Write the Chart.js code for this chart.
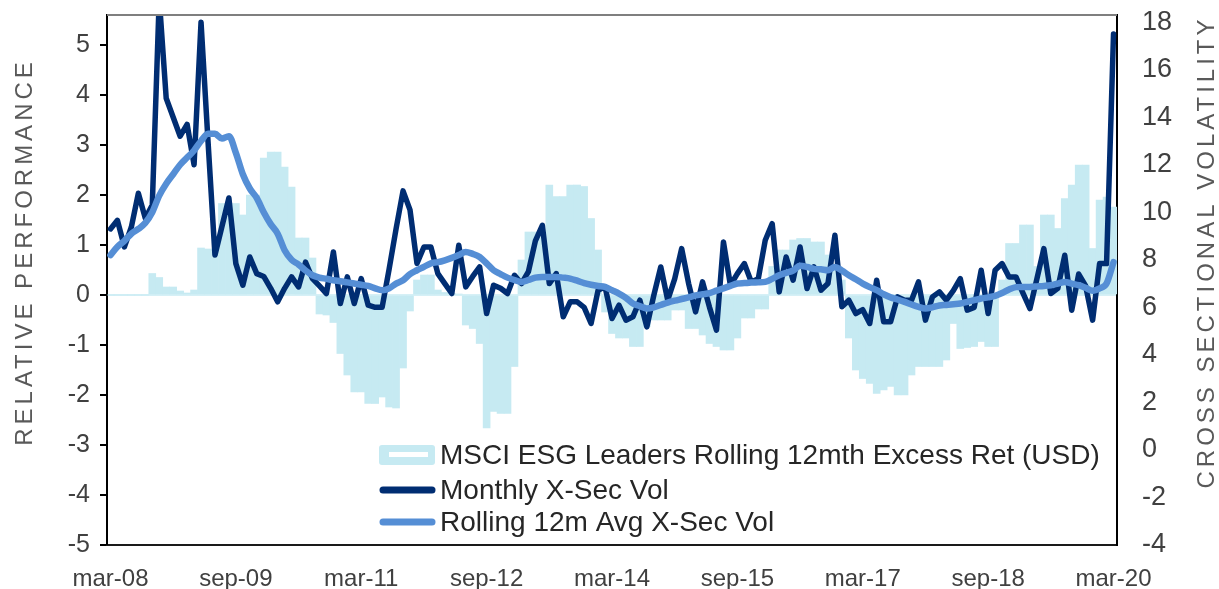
<!DOCTYPE html>
<html>
<head>
<meta charset="utf-8">
<script src="https://cdn.jsdelivr.net/npm/chart.js@4.4.1/dist/chart.umd.min.js"></script>
<style>
  html, body { margin: 0; padding: 0; background: #fff; }
  #wrap { width: 1219px; height: 589px; position: relative; }
</style>
</head>
<body>
<div id="wrap"><canvas id="myChart" width="1219" height="589"></canvas></div>
<script>
// month categories mar-08 .. mar-20
const monthNames = ['jan','feb','mar','apr','may','jun','jul','aug','sep','oct','nov','dec'];
const labels = [];
for (let y = 2008; y <= 2020; y++) {
  for (let m = 0; m < 12; m++) {
    if ((y === 2008 && m < 2) || (y === 2020 && m > 2)) continue;
    labels.push(monthNames[m] + '-' + String(y).slice(2));
  }
}
const tickLabels = ['mar-08','sep-09','mar-11','sep-12','mar-14','sep-15','mar-17','sep-18','mar-20'];
const leftTicks = [-5, -4, -3, -2, -1, 0, 1, 2, 3, 4, 5];
const rightTicks = [-4, -2, 0, 2, 4, 6, 8, 10, 12, 14, 16, 18];

// MSCI ESG Leaders rolling 12m excess return (left axis)
const excessRet = [
  0, 0, 0, 0, 0, 0, 0.43, 0.35, 0.16, 0.16,
  0.08, 0.04, 0.1, 0.94, 0.92, 0.9, 1.83, 1.83, 1.83, 1.6,
  2.0, 2.0, 2.74, 2.86, 2.86, 2.56, 2.16, 1.14, 1.14, 0.74,
  -0.38, -0.4, -0.55, -1.17, -1.6, -1.94, -1.94, -2.17, -2.17, -2.04,
  -2.24, -2.26, -1.46, -0.32, 0.3, 0.4, 0.4, 0.1, 0.05, 0.03,
  0.02, -0.6, -0.67, -0.97, -2.66, -2.33, -2.37, -2.37, -1.43, 0.7,
  1.26, 1.26, 1.26, 2.2, 1.97, 1.97, 2.2, 2.2, 2.17, 1.53,
  0.9, -0.34, -0.77, -0.86, -0.86, -1.03, -1.03, -0.63, -0.5, -0.5,
  -0.5, -0.3, -0.3, -0.67, -0.67, -0.8, -0.97, -1.03, -1.1, -1.1,
  -0.86, -0.46, -0.46, -0.28, -0.28, 0.57, 0.9, 0.9, 1.1, 1.13,
  1.13, 1.06, 1.06, 0.8, 0.5, 0.3, -0.86, -1.5, -1.67, -1.77,
  -1.97, -1.9, -1.83, -2.0, -2.0, -1.6, -1.43, -1.43, -1.43, -1.43,
  -1.3, -0.57, -1.07, -1.05, -1.03, -0.93, -1.03, -1.03, 0.3, 1.03,
  1.03, 1.4, 1.4, 0.57, 1.6, 1.6, 1.33, 1.93, 2.2, 2.6,
  2.6, 0.93, 1.9, 1.96, 1.76
];

// monthly cross-sectional volatility (right axis)
const monthlyVol = [
  9.3, 9.66, 8.54, 9.38, 10.8, 9.75, 10.3, 19.0, 14.8, 14.0,
  13.2, 13.7, 12.0, 18.0, 13.0, 8.2, 9.4, 10.6, 7.84, 6.93,
  8.12, 7.42, 7.3, 6.8, 6.23, 6.8, 7.28, 6.86, 7.9, 7.21,
  6.9, 6.58, 8.33, 6.16, 7.28, 6.16, 7.21, 6.09, 6.0, 6.0,
  7.6, 9.3, 10.9, 10.1, 7.85, 8.54, 8.54, 7.42, 7.0, 6.58,
  8.61, 6.86, 7.3, 7.7, 5.74, 6.93, 6.8, 6.58, 7.35, 7.0,
  7.5, 8.8, 9.45, 7.0, 7.42, 5.6, 6.23, 6.23, 6.0, 5.32,
  6.72, 6.86, 5.53, 6.09, 5.46, 5.6, 6.3, 5.18, 6.5, 7.7,
  6.3, 7.2, 8.47, 7.0, 5.81, 7.07, 6.0, 5.04, 8.75, 6.93,
  7.42, 7.84, 7.07, 7.2, 8.82, 9.52, 6.65, 8.12, 7.14, 8.54,
  6.79, 7.7, 6.72, 7.0, 9.03, 6.02, 6.3, 5.74, 5.9, 5.32,
  7.14, 5.39, 5.39, 6.44, 6.3, 6.3, 7.07, 5.46, 6.44, 6.65,
  6.3, 6.7, 7.21, 5.88, 6.0, 7.56, 5.74, 7.56, 7.84, 7.28,
  7.28, 6.6, 5.95, 7.2, 8.47, 6.58, 6.8, 8.19, 5.88, 7.4,
  6.9, 5.46, 7.84, 7.84, 17.5
];

// rolling 12m average cross-sectional volatility (right axis)
const rollingVol = [
  8.2, 8.55, 8.8, 9.1, 9.3, 9.55, 10.0, 10.7, 11.2, 11.6,
  12.0, 12.3, 12.6, 13.0, 13.3, 13.3, 13.1, 13.2, 12.5, 11.6,
  11.0, 10.6, 10.0, 9.5, 9.1, 8.4, 8.0, 7.8, 7.55, 7.35,
  7.25, 7.2, 7.14, 7.1, 7.05, 7.0, 6.95, 6.9, 6.8, 6.72,
  6.8, 7.0, 7.14, 7.4, 7.56, 7.7, 7.85, 7.9, 7.98, 8.08,
  8.2, 8.33, 8.25, 8.12, 7.85, 7.56, 7.4, 7.25, 7.15, 7.07,
  7.15, 7.25, 7.28, 7.28, 7.28, 7.25, 7.21, 7.12, 7.02, 6.95,
  6.9, 6.86, 6.72, 6.58, 6.4, 6.16, 6.05, 5.95, 6.0, 6.1,
  6.2, 6.28, 6.35, 6.42, 6.5, 6.55, 6.6, 6.7, 6.8, 6.9,
  7.0, 7.02, 7.04, 7.05, 7.07, 7.2, 7.35, 7.45, 7.55, 7.75,
  7.7, 7.62, 7.6, 7.56, 7.7, 7.55, 7.35, 7.18, 7.0, 6.85,
  6.72, 6.55, 6.42, 6.33, 6.23, 6.12, 6.02, 5.95, 6.0, 6.08,
  6.1, 6.13, 6.16, 6.23, 6.3, 6.37, 6.42, 6.48, 6.6, 6.75,
  6.85, 6.86, 6.86, 6.88, 6.9, 6.93, 7.0, 7.07, 7.0, 6.93,
  6.82, 6.7, 6.8, 7.0, 7.9
];

const FONT = "'Liberation Sans', Arial, sans-serif";

// frame top line, axis titles and legend drawn on canvas
const extras = {
  id: 'extras',
  afterDatasetsDraw(chart) {
    const ctx = chart.ctx, a = chart.chartArea;
    ctx.save();
    ctx.strokeStyle = '#7f7f7f';
    ctx.lineWidth = 2;
    ctx.beginPath();
    ctx.moveTo(a.left, a.top);
    ctx.lineTo(a.right, a.top);
    ctx.stroke();
    ctx.restore();
  },
  afterDraw(chart) {
    const ctx = chart.ctx;
    ctx.save();
    ctx.fillStyle = '#595959';
    ctx.font = '24px ' + FONT;
    ctx.textAlign = 'center';
    ctx.textBaseline = 'middle';
    if ('letterSpacing' in ctx) ctx.letterSpacing = '4px';
    [[25, 'RELATIVE PERFORMANCE'], [1207, 'CROSS SECTIONAL VOLATILITY']].forEach(([x, t]) => {
      ctx.save();
      ctx.translate(x, 252);
      ctx.rotate(-Math.PI / 2);
      ctx.fillText(t, 0, 0);
      ctx.restore();
    });
    if ('letterSpacing' in ctx) ctx.letterSpacing = '0px';

    // legend
    const ds = chart.data.datasets;
    const rows = [455, 490, 522];
    ctx.textAlign = 'left';
    ctx.font = '28px ' + FONT;
    ds.forEach((d, i) => {
      const y = rows[i];
      if (d.type === 'bar') {
        ctx.fillStyle = d.backgroundColor;
        ctx.beginPath();
        ctx.roundRect(379, y - 10, 56, 20, 3);
        ctx.fill();
        ctx.fillStyle = '#fff';
        ctx.fillRect(389, y - 3, 39, 5);
      } else {
        ctx.strokeStyle = d.borderColor;
        ctx.lineWidth = 7;
        ctx.lineCap = 'round';
        ctx.beginPath();
        ctx.moveTo(383, y);
        ctx.lineTo(432, y);
        ctx.stroke();
      }
      ctx.fillStyle = '#262626';
      ctx.fillText(d.label, 440, y + 1);
    });
    ctx.restore();
  }
};

const data = {
  labels: labels,
  datasets: [
    {
      type: 'bar',
      label: 'MSCI ESG Leaders Rolling 12mth Excess Ret (USD)',
      data: excessRet,
      backgroundColor: 'rgb(198, 234, 242)',
      borderWidth: 0,
      barPercentage: 1,
      categoryPercentage: 1,
      yAxisID: 'y',
      order: 3
    },
    {
      type: 'line',
      label: 'Monthly X-Sec Vol',
      data: monthlyVol,
      borderColor: '#002D72',
      borderWidth: 5.5,
      pointRadius: 0,
      tension: 0,
      borderJoinStyle: 'round',
      borderCapStyle: 'round',
      yAxisID: 'y1',
      order: 2
    },
    {
      type: 'line',
      label: 'Rolling 12m Avg X-Sec Vol',
      data: rollingVol,
      borderColor: '#558ED5',
      borderWidth: 6.5,
      pointRadius: 0,
      cubicInterpolationMode: 'monotone',
      borderJoinStyle: 'round',
      borderCapStyle: 'round',
      yAxisID: 'y1',
      order: 1
    }
  ]
};

const noPad = s => { s.paddingTop = 0; s.paddingBottom = 0; };

const config = {
  data: data,
  options: {
    responsive: false,
    devicePixelRatio: 1,
    animation: false,
    layout: { padding: { top: 15, left: 0, right: 0, bottom: 0 } },
    scales: {
      x: {
        type: 'category',
        offset: true,
        grid: { display: false },
        border: { display: true, color: '#1a1a1a', width: 2 },
        ticks: {
          autoSkip: false,
          maxRotation: 0,
          minRotation: 0,
          padding: 12,
          color: '#404040',
          font: { family: FONT, size: 24 },
          callback: (v, i) => (i % 18 === 0 ? tickLabels[i / 18] : '')
        },
        afterFit: s => { s.height = 44; s.paddingLeft = 0; s.paddingRight = 0; }
      },
      y: {
        position: 'left',
        min: -5,
        max: 5.6,
        afterBuildTicks: s => { s.ticks = leftTicks.map(v => ({ value: v })); },
        grid: {
          drawOnChartArea: true,
          drawTicks: true,
          tickLength: 7,
          tickColor: '#000',
          tickWidth: 2,
          color: c => (c.tick && c.tick.value === 0 ? 'rgb(214, 240, 246)' : 'rgba(0,0,0,0)'),
          lineWidth: c => (c.tick && c.tick.value === 0 ? 2 : 0)
        },
        border: { display: true, color: '#000', width: 2 },
        ticks: {
          padding: 10,
          color: '#404040',
          font: { family: FONT, size: 25 }
        },
        afterFit: s => { s.width = 107; noPad(s); }
      },
      y1: {
        position: 'right',
        min: -4,
        max: 18.3,
        afterBuildTicks: s => { s.ticks = rightTicks.map(v => ({ value: v })); },
        grid: { drawOnChartArea: false, drawTicks: false },
        border: { display: true, color: '#000', width: 2 },
        ticks: {
          padding: 25,
          color: '#404040',
          font: { family: FONT, size: 27 }
        },
        afterFit: s => { s.width = 102; noPad(s); }
      }
    },
    plugins: {
      legend: { display: false },
      tooltip: { enabled: false }
    }
  },
  plugins: [extras]
};

const myChart = new Chart(document.getElementById('myChart'), config);
</script>
</body>
</html>
